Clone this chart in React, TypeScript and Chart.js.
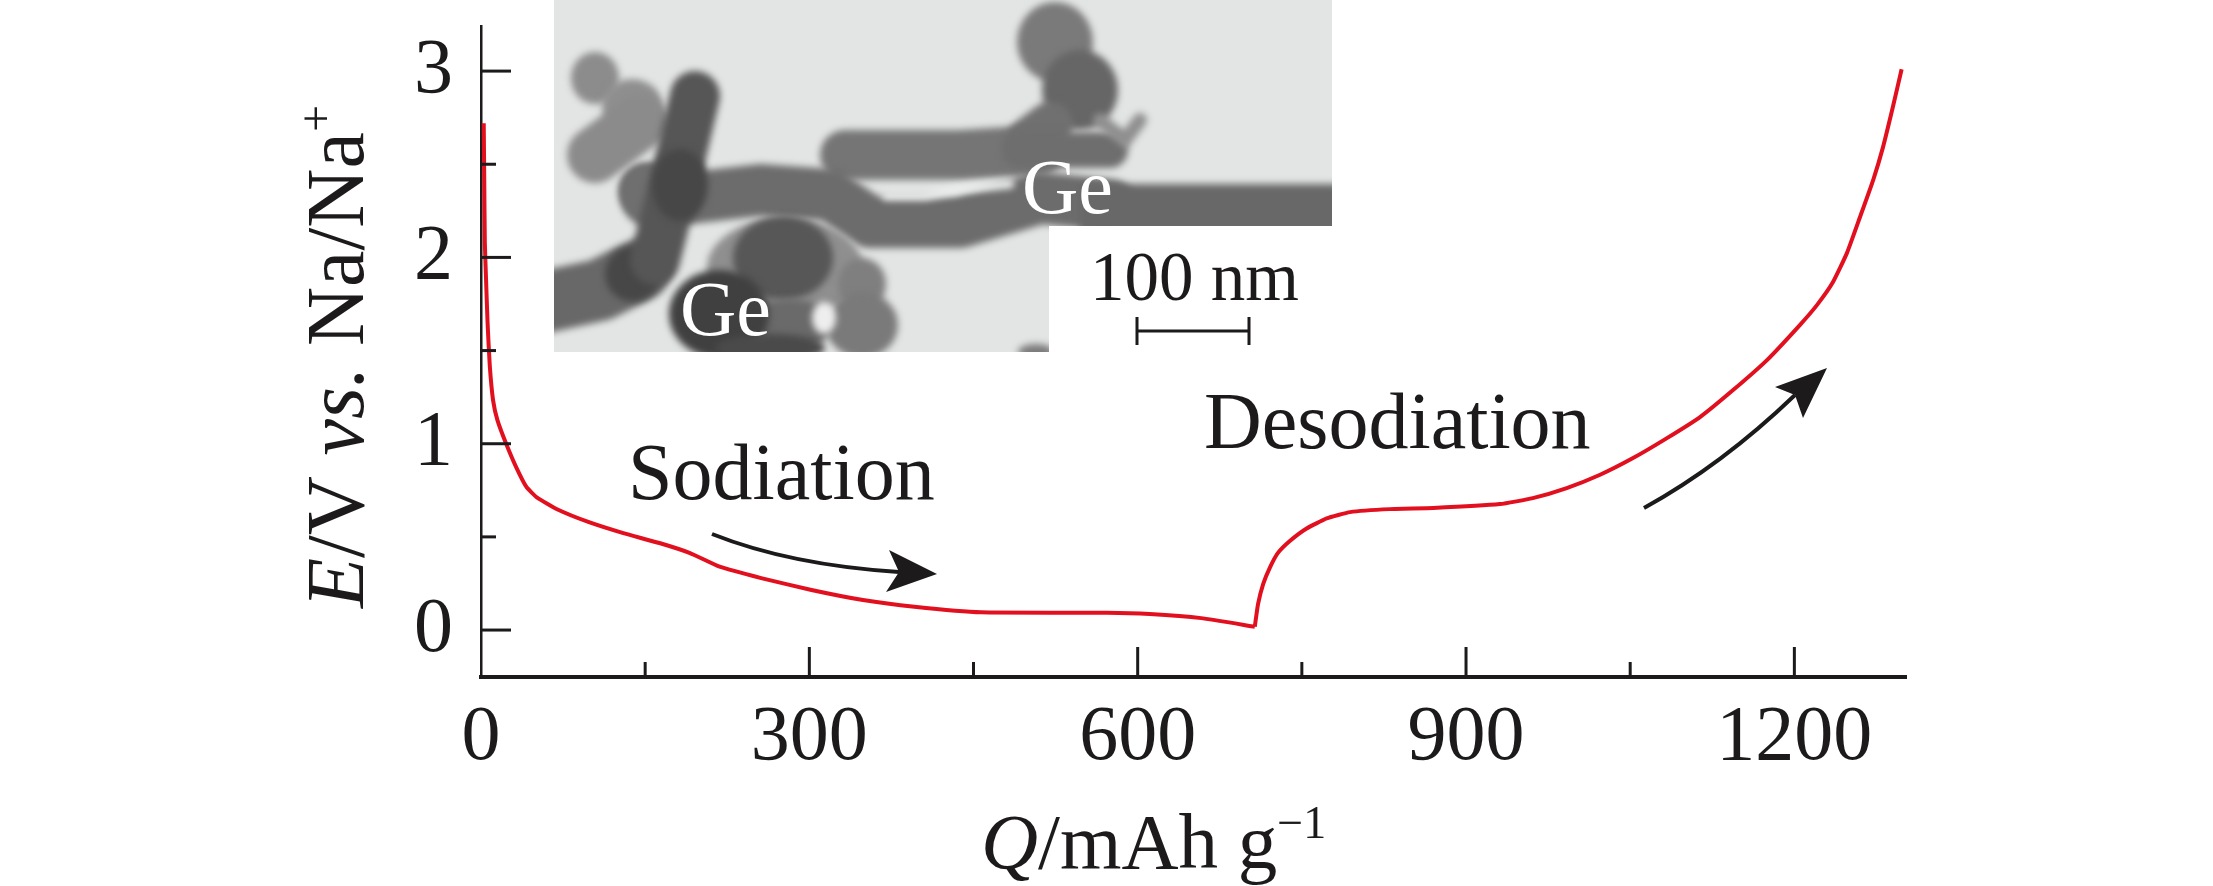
import React, { useEffect, useRef } from "react";
import { Chart, registerables } from "chart.js";

Chart.register(...registerables);

const sodiationQ = [2.5, 3, 3.5, 4.5, 6, 8, 11, 15, 23, 32, 41.5, 51, 69.5, 98, 130, 163, 191, 218, 256, 302, 349, 396, 457, 572, 611, 658, 707];
const sodiationE = [2.72, 2.4, 2.08, 1.9, 1.65, 1.42, 1.234, 1.127, 1.0, 0.876, 0.768, 0.712, 0.648, 0.58, 0.52, 0.467, 0.413, 0.34, 0.279, 0.215, 0.161, 0.125, 0.095, 0.093, 0.086, 0.064, 0.018];
const desodiationQ = [707, 710, 714.7, 721, 728, 739, 754, 772.7, 794, 830.5, 870, 931, 961, 992, 1022, 1052.6, 1083.6, 1113.8, 1144, 1175, 1205, 1220.6, 1235.3, 1248, 1260, 1272, 1281, 1290, 1298];
const desodiationE = [0.018, 0.14, 0.248, 0.338, 0.413, 0.478, 0.544, 0.599, 0.633, 0.649, 0.655, 0.676, 0.708, 0.762, 0.832, 0.923, 1.03, 1.143, 1.288, 1.449, 1.637, 1.744, 1.868, 2.023, 2.217, 2.415, 2.592, 2.807, 3.01];

const INK = "#1c1a1b";
const RED = "#e2101f";
const SERIF = '"Liberation Serif"';

type Run = { text: string; font: string; dy?: number };

function drawRuns(ctx: CanvasRenderingContext2D, x: number, y: number, runs: Run[]) {
  let cx = x;
  for (const r of runs) {
    ctx.font = r.font;
    ctx.fillText(r.text, cx, y + (r.dy ?? 0));
    cx += ctx.measureText(r.text).width;
  }
}

function drawArrow(
  ctx: CanvasRenderingContext2D,
  start: number[], ctrl: number[], end: number[],
  tip: number[], c1: number[], c2: number[]
) {
  ctx.strokeStyle = INK;
  ctx.fillStyle = INK;
  ctx.lineWidth = 4;
  ctx.lineCap = "butt";
  ctx.beginPath();
  ctx.moveTo(start[0], start[1]);
  ctx.quadraticCurveTo(ctrl[0], ctrl[1], end[0], end[1]);
  ctx.stroke();
  ctx.beginPath();
  ctx.moveTo(tip[0], tip[1]);
  ctx.lineTo(c1[0], c1[1]);
  ctx.lineTo(end[0], end[1]);
  ctx.lineTo(c2[0], c2[1]);
  ctx.closePath();
  ctx.fill();
}

function drawInset(ctx: CanvasRenderingContext2D) {
  ctx.save();
  ctx.beginPath();
  ctx.moveTo(554, 0);
  ctx.lineTo(1332, 0);
  ctx.lineTo(1332, 226);
  ctx.lineTo(1049, 226);
  ctx.lineTo(1049, 352);
  ctx.lineTo(554, 352);
  ctx.closePath();
  ctx.clip();
  ctx.fillStyle = "#e3e4e4";
  ctx.fillRect(554, 0, 778, 352);
  (ctx as any).filter = "blur(3.5px)";
  ctx.lineCap = "round";
  ctx.lineJoin = "round";
  const blob = (x: number, y: number, rx: number, ry: number, c: string) => {
    ctx.fillStyle = c;
    ctx.beginPath();
    ctx.ellipse(x, y, rx, ry, 0, 0, Math.PI * 2);
    ctx.fill();
  };
  const tube = (pts: number[][], w: number, c: string) => {
    ctx.strokeStyle = c;
    ctx.lineWidth = w;
    ctx.beginPath();
    pts.forEach((p, i) => (i ? ctx.lineTo(p[0], p[1]) : ctx.moveTo(p[0], p[1])));
    ctx.stroke();
  };
  // top-left clump
  blob(595, 78, 24, 26, "#8c8c8c");
  blob(632, 105, 30, 26, "#8f8f8f");
  tube([[595, 155], [640, 122]], 56, "#8b8b8b");
  // upper and lower tubes
  tube([[845, 155], [960, 155], [1040, 150]], 50, "#757575");
  tube([[645, 190], [690, 198], [760, 190], [830, 195], [870, 222], [960, 222], [1040, 198], [1110, 205]], 52, "#6c6c6c");
  blob(650, 195, 30, 32, "#6f6f6f");
  // long rod on the right
  ctx.fillStyle = "#686868";
  ctx.fillRect(1080, 184, 280, 50);
  // thin gap between the tubes
  tube([[886, 196], [925, 196], [960, 189], [1010, 184]], 9, "#eceded");
  // lower left tube
  tube([[530, 305], [600, 290], [640, 270]], 62, "#686868");
  blob(633, 274, 28, 28, "#474747");
  // big vertical dark rod
  tube([[695, 96], [675, 180], [655, 260]], 50, "#565656");
  blob(680, 185, 28, 36, "#474747");
  // big sphere in the middle
  blob(785, 268, 78, 50, "#8f8f8f");
  blob(783, 258, 50, 42, "#575757");
  blob(862, 284, 24, 26, "#7f7f7f");
  blob(862, 325, 36, 33, "#7a7a7a");
  blob(790, 325, 42, 26, "#6a6a6a");
  blob(719, 314, 50, 44, "#404040");
  blob(770, 348, 55, 14, "#4a4a4a");
  blob(824, 318, 12, 16, "#eeeeee");
  blob(1036, 352, 18, 8, "#7a7a7a");
  // big top blob
  blob(1055, 42, 38, 40, "#7a7a7a");
  blob(1080, 90, 38, 40, "#666666");
  tube([[1050, 125], [1030, 140]], 46, "#707070");
  tube([[1020, 150], [1110, 150]], 36, "#6e6e6e");
  tube([[1100, 120], [1125, 140], [1140, 120]], 14, "#8f8f8f");
  (ctx as any).filter = "none";
  ctx.restore();
}

const minorMajorTicks = {
  id: "minorMajorTicks",
  afterDraw(chart: any) {
    const ctx: CanvasRenderingContext2D = chart.ctx;
    const { x, y } = chart.scales;
    const area = chart.chartArea;
    ctx.save();
    ctx.strokeStyle = INK;
    ctx.lineCap = "butt";
    ctx.lineWidth = 3;
    for (const t of x.ticks) {
      const px = x.getPixelForValue(t.value);
      const len = t.value % 300 === 0 ? 30 : 15;
      if (t.value === 0) continue;
      ctx.beginPath();
      ctx.moveTo(px, area.bottom);
      ctx.lineTo(px, area.bottom - len);
      ctx.stroke();
    }
    for (const t of y.ticks) {
      const py = y.getPixelForValue(t.value);
      const len = Number.isInteger(t.value) ? 30 : 15;
      ctx.beginPath();
      ctx.moveTo(area.left, py);
      ctx.lineTo(area.left + len, py);
      ctx.stroke();
    }
    ctx.restore();
  },
};

const annotations = {
  id: "annotations",
  beforeDatasetsDraw(chart: any) {
    const ctx: CanvasRenderingContext2D = chart.ctx;
    ctx.save();
    drawInset(ctx);
    ctx.restore();
  },
  afterDraw(chart: any) {
    const ctx: CanvasRenderingContext2D = chart.ctx;
    ctx.save();
    ctx.textBaseline = "alphabetic";
    ctx.textAlign = "left";
    ctx.fillStyle = INK;

    const reg = `79px ${SERIF}`;
    const ita = `italic 79px ${SERIF}`;
    drawRuns(ctx, 981, 868, [
      { text: "Q", font: ita },
      { text: "/mAh g", font: reg },
      { text: "\u22121", font: `46px ${SERIF}`, dy: -30 },
    ]);

    ctx.save();
    ctx.translate(363, 608);
    ctx.rotate(-Math.PI / 2);
    drawRuns(ctx, 0, 0, [
      { text: "E", font: `italic 82px ${SERIF}` },
      { text: "/V ", font: `82px ${SERIF}` },
      { text: "vs.", font: `italic 82px ${SERIF}` },
      { text: " Na/Na", font: `82px ${SERIF}` },
      { text: "+", font: `48px ${SERIF}`, dy: -31 },
    ]);
    ctx.restore();

    ctx.font = `80px ${SERIF}`;
    ctx.fillText("Sodiation", 628, 499);
    ctx.fillText("Desodiation", 1204, 448);
    ctx.font = `69px ${SERIF}`;
    ctx.fillText("100 nm", 1090, 300);

    ctx.fillStyle = "#ffffff";
    ctx.font = `78px ${SERIF}`;
    ctx.fillText("Ge", 1022, 213);
    ctx.fillText("Ge", 680, 335);

    ctx.strokeStyle = INK;
    ctx.lineWidth = 3;
    ctx.beginPath();
    ctx.moveTo(1137, 317); ctx.lineTo(1137, 345);
    ctx.moveTo(1249, 317); ctx.lineTo(1249, 345);
    ctx.moveTo(1137, 331); ctx.lineTo(1249, 331);
    ctx.stroke();

    drawArrow(ctx, [712, 534], [790, 565], [899, 572], [937, 574], [889, 550], [886, 592]);
    drawArrow(ctx, [1644, 508], [1722, 465], [1795, 395], [1827, 368], [1775, 387], [1803, 418]);
    ctx.restore();
  },
};

export default function App() {
  const ref = useRef<HTMLCanvasElement>(null);
  useEffect(() => {
    const chart = new Chart(ref.current!, {
      type: "line",
      data: {
        datasets: [
          { label: "Sodiation", data: sodiationQ.map((q, i) => ({ x: q, y: sodiationE[i] })) },
          { label: "Desodiation", data: desodiationQ.map((q, i) => ({ x: q, y: desodiationE[i] })) },
        ].map((d) => ({ ...d, borderColor: RED, borderWidth: 4, pointRadius: 0, tension: 0.15, fill: false })),
      },
      plugins: [annotations, minorMajorTicks],
      options: {
        responsive: false,
        devicePixelRatio: 1,
        animation: false,
        layout: { padding: { top: 26, right: 307, left: 0, bottom: 0 } },
        plugins: { legend: { display: false }, tooltip: { enabled: false } },
        scales: {
          x: {
            type: "linear",
            min: 0,
            max: 1302,
            grid: { display: false, drawTicks: false },
            border: { display: true, color: INK, width: 4 },
            afterFit: (s: any) => { s.height = 209; s.paddingLeft = 0; s.paddingRight = 0; },
            ticks: {
              stepSize: 150,
              includeBounds: false,
              autoSkip: false,
              maxRotation: 0,
              padding: 15,
              color: INK,
              font: { family: "Liberation Serif", size: 78 },
              callback: (v: any) => (v % 300 === 0 ? String(v) : ""),
            },
          },
          y: {
            type: "linear",
            min: -0.252,
            max: 3.242,
            grid: { display: false, drawTicks: false },
            border: { display: true, color: INK, width: 2.5 },
            afterFit: (s: any) => { s.width = 481; s.paddingTop = 0; s.paddingBottom = 0; },
            ticks: {
              stepSize: 0.5,
              includeBounds: false,
              autoSkip: false,
              padding: 28,
              color: INK,
              font: { family: "Liberation Serif", size: 78 },
              callback: (v: any) => (Number.isInteger(v) ? String(v) : ""),
            },
          },
        },
      },
    } as any);
    return () => chart.destroy();
  }, []);
  return (
    <canvas
      ref={ref}
      width={2213}
      height={886}
      style={{ position: "fixed", left: 0, top: 0, width: 2213, height: 886, background: "#fff" }}
    />
  );
}
